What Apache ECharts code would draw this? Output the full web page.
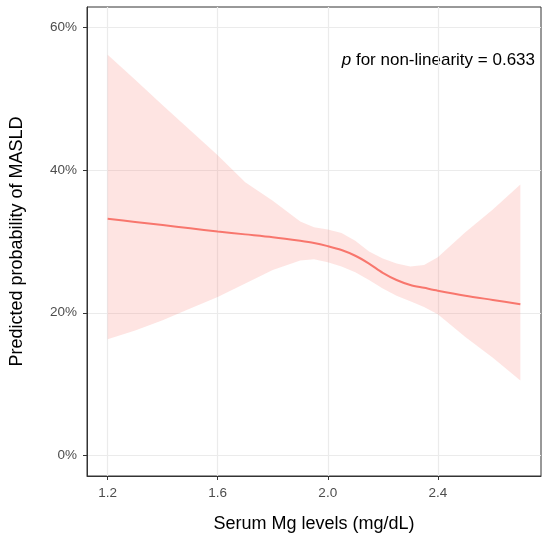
<!DOCTYPE html>
<html>
<head>
<meta charset="UTF-8">
<title>Serum Mg and MASLD</title>
<script src="https://cdn.jsdelivr.net/npm/echarts@6.0.0/dist/echarts.min.js"></script>
<style>
	html, body {
		margin: 0;
		padding: 0;
		background: #ffffff;
	}

	#main {
		width: 550px;
		height: 539px;
	}
</style>
</head>

<body>
	<div id="main"></div>
</body>
<script type="text/javascript">
	// values (percent)
	var mgLevels = [1.2, 1.3, 1.4, 1.5, 1.6, 1.7, 1.8, 1.9, 1.95, 2.0, 2.05, 2.1, 2.15, 2.2, 2.25, 2.3, 2.35, 2.4, 2.5, 2.6, 2.7];
	var fitProb = [33.2, 32.75, 32.3, 31.85, 31.4, 31.0, 30.6, 30.1, 29.8, 29.35, 28.8, 28.0, 26.9, 25.6, 24.6, 23.9, 23.5, 23.1, 22.4, 21.8, 21.2];
	var upperCI = [56.2, 52.7, 49.1, 45.6, 42.1, 38.3, 35.7, 32.8, 32.0, 31.7, 31.2, 30.1, 28.6, 27.6, 26.9, 26.5, 26.7, 27.8, 31.3, 34.5, 38.0];
	var lowerCI = [16.3, 17.5, 18.95, 20.6, 22.2, 24.1, 26.0, 27.35, 27.5, 27.1, 26.5, 25.7, 24.6, 23.4, 22.4, 21.6, 20.8, 19.8, 16.6, 13.7, 10.5];

	var xTicks = [1.2, 1.6, 2.0, 2.4];
	var yTicks = [0, 20, 40, 60];

	var fitData = [];
	var bandData = [];
	for (let i = 0; i < mgLevels.length; i++) {
		fitData.push([mgLevels[i], fitProb[i]]);
		bandData.push([mgLevels[i], lowerCI[i], upperCI[i]]);
	}

	// ribbon drawn as one polygon through the axis scales
	function renderBand(params, api) {
		if (params.dataIndex !== 0) return;
		let pts = [];
		for (let i = 0; i < bandData.length; i++) {
			pts.push(api.coord([bandData[i][0], bandData[i][2]]));
		}
		for (let j = bandData.length - 1; j >= 0; j--) {
			pts.push(api.coord([bandData[j][0], bandData[j][1]]));
		}
		return {
			type: 'polygon',
			shape: { points: pts },
			style: { fill: 'rgba(248,118,109,0.2)', stroke: null }
		};
	}

	var myChart = echarts.init(document.getElementById('main'));

	myChart.setOption({
		animation: false,
		textStyle: { fontFamily: 'Liberation Sans' },
		grid: {
			left: 87,
			right: 9,
			top: 7,
			bottom: 63,
			show: true,
			borderColor: '#333333',
			borderWidth: 1,
			backgroundColor: '#ffffff'
		},
		xAxis: {
			type: 'value',
			min: 1.125,
			max: 2.775,
			name: 'Serum Mg levels (mg/dL)',
			nameLocation: 'middle',
			nameGap: 39,
			nameTextStyle: { fontSize: 18, color: '#000000', fontFamily: 'Liberation Sans' },
			axisLine: { show: true, onZero: false, lineStyle: { color: '#333333', width: 1 } },
			axisTick: { show: true, length: 4, customValues: xTicks, lineStyle: { color: '#333333' } },
			axisLabel: {
				customValues: xTicks,
				fontSize: 13.5,
				color: '#4d4d4d',
				margin: 10,
				formatter: function (v) { return v.toFixed(1); }
			},
			splitLine: { show: true, lineStyle: { color: '#ebebeb', width: 1.2 } }
		},
		yAxis: {
			type: 'value',
			min: -2.9,
			max: 62.9,
			name: 'Predicted probability of MASLD',
			nameLocation: 'middle',
			nameGap: 61,
			nameTextStyle: { fontSize: 18, color: '#000000', fontFamily: 'Liberation Sans' },
			axisLine: { show: true, onZero: false, lineStyle: { color: '#333333', width: 1 } },
			axisTick: { show: true, length: 4, customValues: yTicks, lineStyle: { color: '#333333' } },
			axisLabel: {
				customValues: yTicks,
				fontSize: 13.5,
				color: '#4d4d4d',
				margin: 10,
				formatter: function (v) { return v + '%'; }
			},
			splitLine: { show: true, lineStyle: { color: '#ebebeb', width: 1.2 } }
		},
		graphic: [
			{
				type: 'text',
				x: 535,
				y: 60,
				style: {
					text: '{i|p} for non-linearity = 0.633',
					align: 'right',
					verticalAlign: 'middle',
					fontSize: 17,
					fontFamily: 'Liberation Sans',
					fill: '#000000',
					rich: {
						i: { fontStyle: 'italic', fontSize: 17, fontFamily: 'Liberation Sans' }
					}
				}
			}
		],
		series: [
			{
				name: 'CI',
				type: 'custom',
				renderItem: renderBand,
				data: bandData,
				encode: { x: 0, y: [1, 2] },
				silent: true,
				z: 1
			},
			{
				name: 'fit',
				type: 'line',
				data: fitData,
				showSymbol: false,
				smooth: 0.3,
				lineStyle: { color: '#F8766D', width: 2 },
				z: 2
			}
		]
	});
</script>

</html>
